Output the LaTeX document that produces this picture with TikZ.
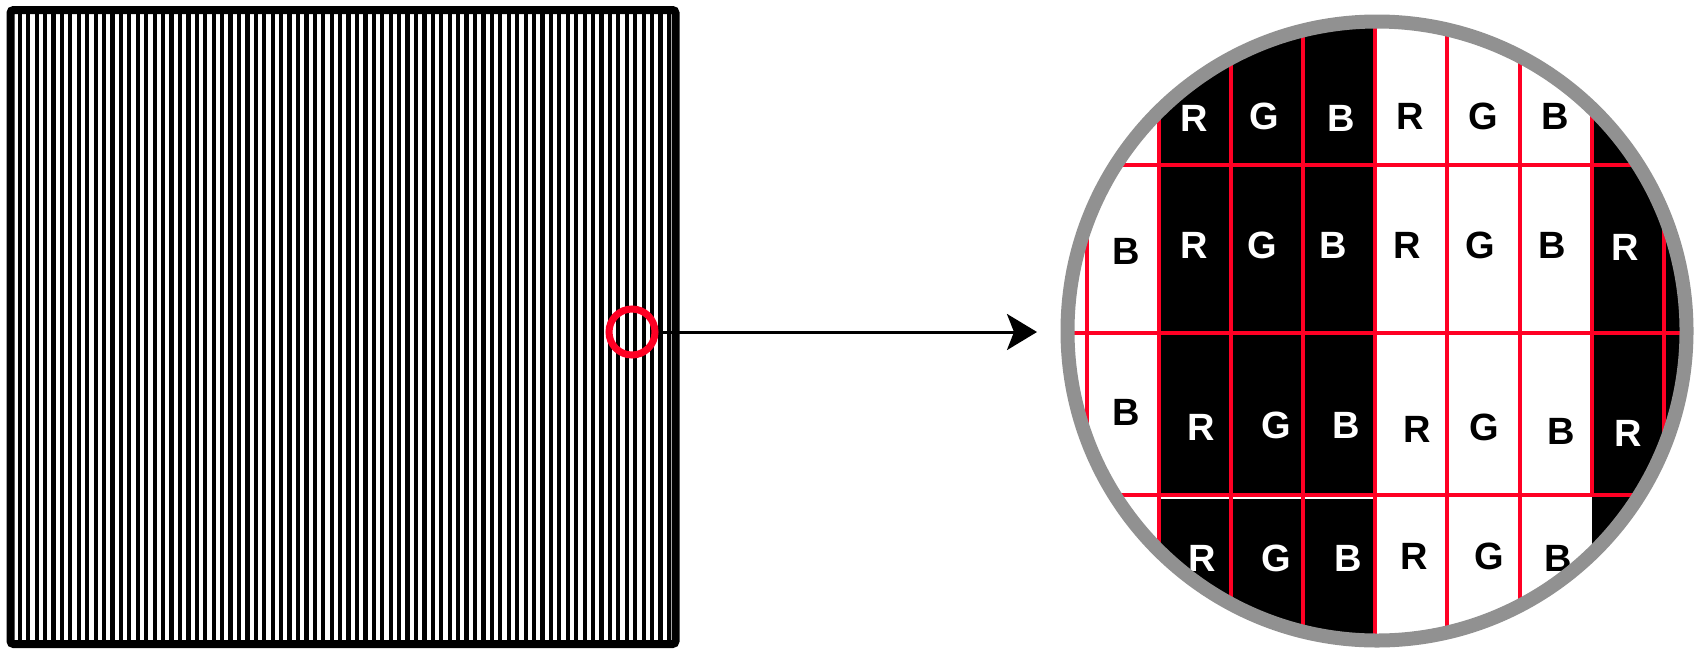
\documentclass[tikz,border=0pt]{standalone}
\usepackage{fontspec}
\setmainfont{Liberation Sans}
\usetikzlibrary{arrows.meta}
\definecolor{lensred}{RGB}{255,0,36}
\definecolor{ringgrey}{RGB}{145,145,145}
\tikzset{
  gridred/.style={draw=lensred,line width=3.3pt},
  letter/.style={font=\fontsize{38}{38}\selectfont\bfseries,inner sep=0pt}
}
\begin{document}
\begin{tikzpicture}[x=1pt,y=-1pt]
\useasboundingbox (0,0) rectangle (1699,649);
% striped panel
\foreach \k in {0,...,77}\fill[black] (17.7+8.43*\k,14) rectangle ++(4.2,626);
\draw[line width=8pt,rounded corners=3pt] (10.5,10) rectangle (675.5,644);
\node[circle,draw=lensred,line width=7pt,minimum size=46pt,inner sep=0pt] (spot) at (632,332) {};
% magnified view
\begin{scope}
\clip (1377,331) circle (311pt);
\fill[black] (1159,0) rectangle (1375,649);
\fill[black] (1592,0) rectangle (1699,649);
\draw[white,line width=2.5pt] (1159,498) -- (1375,498);
\foreach \x in {1087,1159,1231,1303,1375,1447,1520,1664}\draw[gridred] (\x,0) -- (\x,649);
\draw[gridred] (1592,0) -- (1592,495);
\foreach \y in {165,333,495}\draw[gridred] (1050,\y) -- (1699,\y);
\foreach \x/\y/\l/\c [count=\i] in {
  1194/118/R/white,1264/116/G/white,1341/118/B/white,1410/116/R/black,1483/116/G/black,1555/116/B/black,
  1126/251/B/black,1194/245/R/white,1262/245/G/white,1333/245/B/white,1407/245/R/black,1480/245/G/black,1552/245/B/black,1625/247/R/white,
  1126/412/B/black,1201/427/R/white,1276/425/G/white,1346/425/B/white,1417/429/R/black,1484/427/G/black,1561/431/B/black,1628/433/R/white,
  1202/558/R/white,1276/558/G/white,1348/558/B/white,1414/556/R/black,1489/556/G/black,1558/558/B/black}
  \node[letter,text=\c] (px\i) at (\x,\y) {\l};
\end{scope}
\node[circle,draw=ringgrey,line width=14pt,minimum size=619pt,inner sep=0pt] (mag) at (1377,331) {};
\draw[line width=3pt,-{Stealth[length=30pt,width=36pt,inset=7pt]},shorten >=23.5pt] (spot.east) -- (spot.east -| mag.west);
\end{tikzpicture}
\end{document}
